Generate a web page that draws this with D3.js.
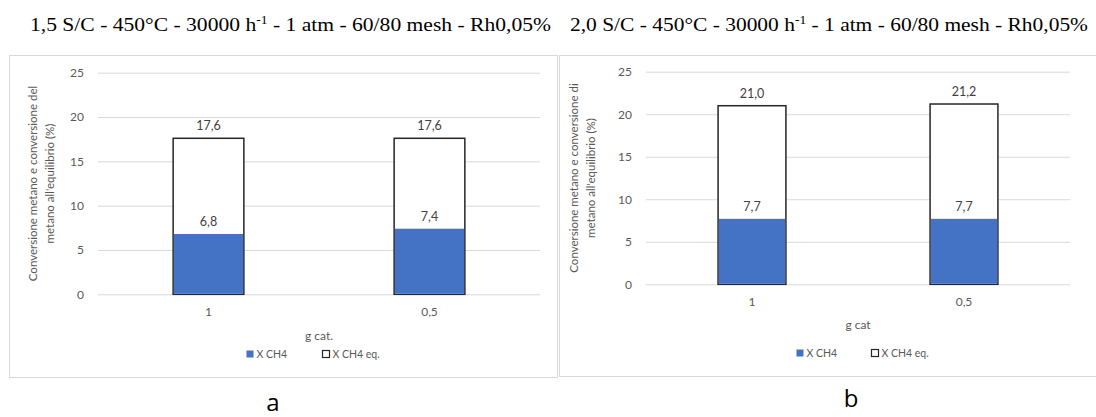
<!DOCTYPE html>
<html>
<head>
<meta charset="utf-8">
<script src="https://cdn.jsdelivr.net/npm/d3@7"></script>
<style>
  body { margin: 0; background: #fff; }
  svg { display: block; }
</style>
</head>
<body>
<svg id="chart" width="1096" height="417"></svg>
<script>
// ---- data ----
const categories = ["1", "0,5"];
const seriesNames = ["X CH4", "X CH4 eq."];
const xch4A = [6.8, 7.4];
const xch4EqA = [17.6, 17.6];
const xch4B = [7.7, 7.7];
const xch4EqB = [21.0, 21.2];
const yTicks = [0, 5, 10, 15, 20, 25];
const titleA = ["1,5 S/C - 450°C - 30000 h", "-1", " - 1 atm - 60/80 mesh - Rh0,05%"];
const titleB = ["2,0 S/C - 450°C - 30000 h", "-1", " - 1 atm - 60/80 mesh - Rh0,05%"];
const yTitleA = ["Conversione metano e conversione del", "metano all'equilibrio (%)"];
const yTitleB = ["Conversione metano e conversione di", "metano all'equilibrio (%)"];
const xTitleA = "g cat.";
const xTitleB = "g cat";

const svg = d3.select("#chart");
const sans = "Lato, 'Open Sans', sans-serif";
const grey = "#595959";
const comma = v => d3.format(".1f")(v).replace(".", ",");

function drawPanel(p) {
  const g = svg.append("g");

  // chart frame
  g.append("rect")
    .attr("x", p.box[0] + 0.5).attr("y", p.box[1] + 0.5)
    .attr("width", p.box[2] - p.box[0]).attr("height", p.box[3] - p.box[1])
    .attr("fill", "none").attr("stroke", "#d9d9d9").attr("stroke-width", 1);

  // heading above the frame
  const t = g.append("text")
    .attr("x", p.titleX).attr("y", 31)
    .attr("font-family", "'Liberation Serif', 'Times New Roman', serif")
    .attr("font-size", 19).attr("fill", "#000")
    .attr("textLength", p.titleW).attr("lengthAdjust", "spacingAndGlyphs");
  t.append("tspan").text(p.title[0]);
  t.append("tspan").attr("font-size", 12).attr("dy", -7).text(p.title[1]);
  t.append("tspan").attr("dy", 7).text(p.title[2]);

  const x = d3.scaleBand().domain(categories).range([p.left, p.right]).paddingInner(0.68).paddingOuter(0.34);
  const y = d3.scaleLinear().domain([0, 25]).range([p.bottom, p.top]);

  // horizontal gridlines + tick labels
  const yAxis = d3.axisLeft(y).tickValues(yTicks).tickSize(-(p.right - p.left)).tickPadding(14);
  const ya = g.append("g").attr("transform", `translate(${p.left},0)`).call(yAxis);
  ya.select(".domain").remove();
  ya.selectAll(".tick line").attr("stroke", "#d9d9d9").attr("stroke-width", 1);
  ya.selectAll(".tick text").attr("font-family", sans).attr("font-size", 12).attr("fill", grey);

  // category labels
  const xAxis = d3.axisBottom(x).tickSize(0).tickPadding(p.xTickPad);
  const xa = g.append("g").attr("transform", `translate(0,${p.bottom})`).call(xAxis);
  xa.select(".domain").remove();
  xa.selectAll(".tick text").attr("font-family", sans).attr("font-size", 12).attr("fill", grey);

  const bw = x.bandwidth();
  // equilibrium conversion: outlined, behind
  g.selectAll(".eq").data(p.eq).join("rect")
    .attr("x", (d, i) => x(categories[i]))
    .attr("y", d => y(d))
    .attr("width", bw).attr("height", d => y(0) - y(d))
    .attr("fill", "#fff").attr("stroke", "#262626").attr("stroke-width", 1.5);
  // measured conversion: filled, in front
  g.selectAll(".xc").data(p.xc).join("rect")
    .attr("x", (d, i) => x(categories[i]) + 0.75)
    .attr("y", d => y(d))
    .attr("width", bw - 1.5).attr("height", d => y(0) - y(d) - 0.75)
    .attr("fill", "#4472c4");

  // value labels
  const lab = (data) => g.append("g").selectAll("text").data(data).join("text")
    .attr("x", (d, i) => x(categories[i]) + bw / 2)
    .attr("y", d => y(d) - 8)
    .attr("text-anchor", "middle")
    .attr("font-family", sans).attr("font-size", 12.5).attr("fill", "#404040")
    .text(d => comma(d));
  lab(p.eq);
  lab(p.xc);

  // axis titles
  const cy = (p.top + p.bottom) / 2;
  const yt = g.append("text")
    .attr("transform", `translate(${p.yTitleX},${cy}) rotate(-90)`)
    .attr("text-anchor", "middle")
    .attr("font-family", sans).attr("font-size", 11.5).attr("fill", grey);
  yt.append("tspan").attr("x", 0).attr("dy", 0).text(p.yTitle[0]);
  yt.append("tspan").attr("x", 0).attr("dy", 17).text(p.yTitle[1]);

  g.append("text")
    .attr("x", (p.left + p.right) / 2).attr("y", p.xTitleY)
    .attr("text-anchor", "middle")
    .attr("font-family", sans).attr("font-size", 12).attr("fill", grey)
    .text(p.xTitle);

  // legend
  const lg = g.append("g");
  const cx = (p.left + p.right) / 2;
  const items = [
    { name: seriesNames[0], fill: "#4472c4", stroke: "none", dx: p.leg[0] },
    { name: seriesNames[1], fill: "#fff", stroke: "#262626", dx: p.leg[1] }
  ];
  items.forEach(it => {
    lg.append("rect")
      .attr("x", cx + it.dx + 0.5).attr("y", p.legY - 3.5)
      .attr("width", 7).attr("height", 7)
      .attr("fill", it.fill).attr("stroke", it.stroke).attr("stroke-width", 1.2);
    lg.append("text")
      .attr("x", cx + it.dx + 10.5).attr("y", p.legY + 3.5)
      .attr("font-family", sans).attr("font-size", 10.5).attr("fill", grey)
      .text(it.name);
  });

  // panel letter
  g.append("text")
    .attr("x", p.letterX).attr("y", p.letterY)
    .attr("text-anchor", "middle")
    .attr("font-family", "'Open Sans', sans-serif").attr("font-size", 24).attr("fill", "#000")
    .text(p.letter);
}

drawPanel({
  box: [9, 55, 557, 377],
  left: 98, right: 540, top: 72.7, bottom: 294.3,
  title: titleA, titleX: 30, titleW: 521,
  eq: xch4EqA, xc: xch4A,
  yTitle: yTitleA, yTitleX: 37,
  xTitle: xTitleA, xTitleY: 340, xTickPad: 13,
  leg: [-73, 3], legY: 354,
  letter: "a", letterX: 273, letterY: 411
});

drawPanel({
  box: [559, 55, 1110, 376],
  left: 646, right: 1070, top: 71.7, bottom: 284.3,
  title: titleB, titleX: 570, titleW: 518,
  eq: xch4EqB, xc: xch4B,
  yTitle: yTitleB, yTitleX: 578,
  xTitle: xTitleB, xTitleY: 329, xTickPad: 13,
  leg: [-62, 13], legY: 353,
  letter: "b", letterX: 851, letterY: 407
});
</script>
</body>
</html>
